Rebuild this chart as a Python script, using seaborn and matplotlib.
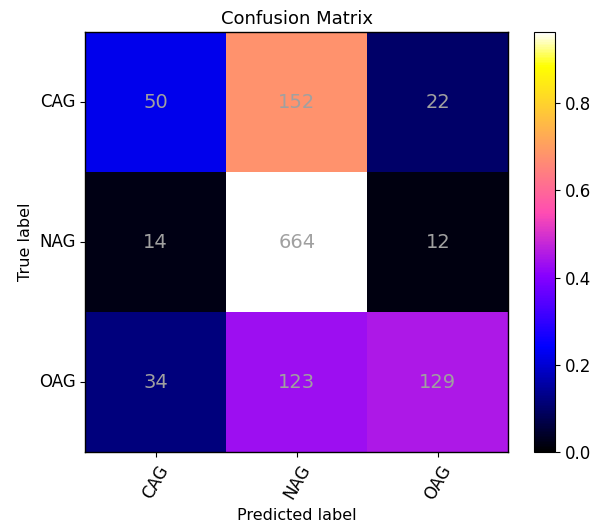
import matplotlib
matplotlib.use("Agg")
import matplotlib.pyplot as plt
import numpy as np
import seaborn as sns

### Data ###

classes = ["CAG", "NAG", "OAG"]

row_cag = [50, 152, 22]
row_nag = [14, 664, 12]
row_oag = [34, 123, 129]

counts = np.array([row_cag, row_nag, row_oag])
normed = counts / counts.sum(axis=1, keepdims=True)     # colour by row fraction, label by count

### Plot ###

fig = plt.figure(figsize=(6.08, 5.27), dpi=100)
ax = fig.add_axes([0.14, 0.142, 0.696, 0.797])
cax = fig.add_axes([0.878, 0.142, 0.035, 0.797])

sns.heatmap(
    normed,
    ax=ax,
    cbar_ax=cax,
    cmap="gnuplot2",
    vmin=0,
    vmax=normed.max(),
    annot=counts,
    fmt="d",
    annot_kws={"color": "#a0a0a0", "fontsize": 14},
    xticklabels=classes,
    yticklabels=classes,
)

for side in ax.spines.values():
    side.set_visible(True)
    side.set_linewidth(1.0)
cbar = ax.collections[0].colorbar
cbar.outline.set_visible(True)
cbar.outline.set_linewidth(0.8)
cbar.ax.tick_params(labelsize=12)

ax.tick_params(labelsize=12)
plt.setp(ax.get_xticklabels(), rotation=60, ha="center")
plt.setp(ax.get_yticklabels(), rotation=0)

ax.set_title("Confusion Matrix", fontsize=13)
ax.set_xlabel("Predicted label", fontsize=11.5)
ax.set_ylabel("True label", fontsize=11.5)

fig.savefig("out.png", dpi=100)
